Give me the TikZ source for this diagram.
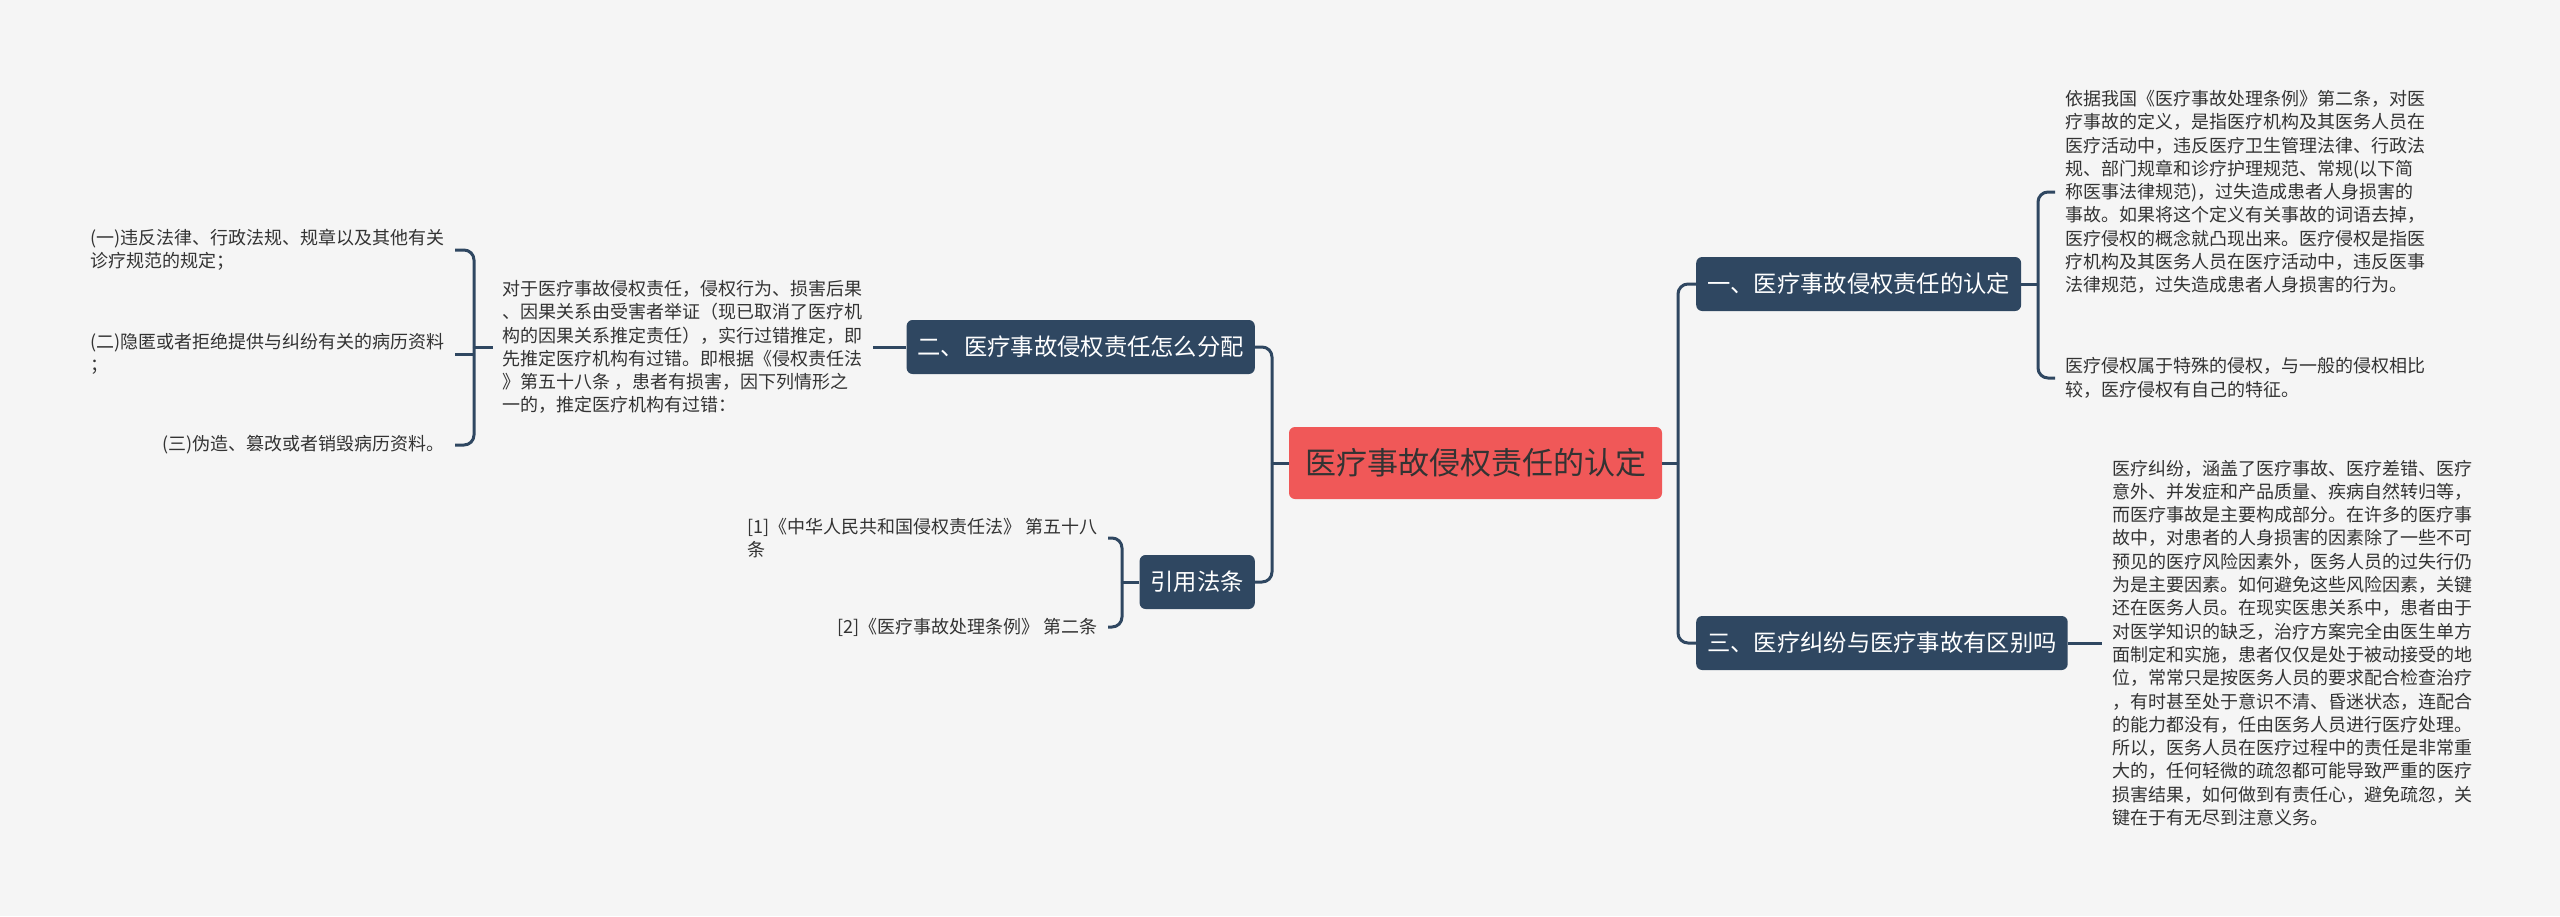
\documentclass[tikz,border=0pt]{standalone}
\usepackage{fontspec}
\setmainfont{Noto Sans CJK SC}
\usetikzlibrary{positioning,calc}
\definecolor{MapBg}{RGB}{245,245,245}
\definecolor{SlateBlue}{RGB}{47,71,97}
\definecolor{RootRed}{RGB}{240,88,88}
\definecolor{InkGray}{RGB}{51,51,51}
\tikzset{
	root/.style={fill=RootRed,text=InkGray,rounded corners=6pt,inner xsep=16pt,
		minimum height=72pt,font=\fontsize{31}{38}\selectfont},
	topic/.style={fill=SlateBlue,text=white,rounded corners=6pt,inner xsep=11pt,
		minimum height=54pt,font=\fontsize{23.3}{28}\selectfont},
	leaf/.style={text=InkGray,align=left,inner xsep=10pt,inner ysep=2pt,
		font=\fontsize{18}{23.3}\selectfont},
	link/.style={draw=SlateBlue,line width=3pt,rounded corners=10pt},
}

\begin{document}
\begin{tikzpicture}[x=1pt,y=-1pt]
			\path[use as bounding box,fill=MapBg] (0,0) rectangle (2560,916);
			\node[root] (root) at (1475.5,463) {医疗事故侵权责任的认定};
			\node[topic,anchor=west] (n1) at (1696,284) {一、医疗事故侵权责任的认定};
			\node[topic,anchor=east] (n2) at (1255,347) {二、医疗事故侵权责任怎么分配};
			\node[topic,anchor=west] (n3) at (1696,643) {三、医疗纠纷与医疗事故有区别吗};
			\node[topic,anchor=east] (n4) at (1255,582) {引用法条};
			\coordinate (rj) at (1678,463);
			\coordinate (lj) at (1272,463);
			\coordinate (j1) at (2038,284);
			\coordinate (j2) at (474,347);
			\coordinate (j4) at (1122,582);
			\node[leaf,anchor=west] (t11) at (2055,192) {依据我国《医疗事故处理条例》第二条，对医\\疗事故的定义，是指医疗机构及其医务人员在\\医疗活动中，违反医疗卫生管理法律、行政法\\规、部门规章和诊疗护理规范、常规(以下简\\称医事法律规范)，过失造成患者人身损害的\\事故。如果将这个定义有关事故的词语去掉，\\医疗侵权的概念就凸现出来。医疗侵权是指医\\疗机构及其医务人员在医疗活动中，违反医事\\法律规范，过失造成患者人身损害的行为。};
			\node[leaf,anchor=west] (t12) at (2055,378) {医疗侵权属于特殊的侵权，与一般的侵权相比\\较，医疗侵权有自己的特征。};
			\node[leaf,anchor=west] (t3) at (2102,643) {医疗纠纷，涵盖了医疗事故、医疗差错、医疗\\意外、并发症和产品质量、疾病自然转归等，\\而医疗事故是主要构成部分。在许多的医疗事\\故中，对患者的人身损害的因素除了一些不可\\预见的医疗风险因素外，医务人员的过失行仍\\为是主要因素。如何避免这些风险因素，关键\\还在医务人员。在现实医患关系中，患者由于\\对医学知识的缺乏，治疗方案完全由医生单方\\面制定和实施，患者仅仅是处于被动接受的地\\位，常常只是按医务人员的要求配合检查治疗\\，有时甚至处于意识不清、昏迷状态，连配合\\的能力都没有，任由医务人员进行医疗处理。\\所以，医务人员在医疗过程中的责任是非常重\\大的，任何轻微的疏忽都可能导致严重的医疗\\损害结果，如何做到有责任心，避免疏忽，关\\键在于有无尽到注意义务。};
			\node[leaf,anchor=east] (t2) at (873,347) {对于医疗事故侵权责任，侵权行为、损害后果\\、因果关系由受害者举证（现已取消了医疗机\\构的因果关系推定责任），实行过错推定，即\\先推定医疗机构有过错。即根据《侵权责任法\\》第五十八条 ，患者有损害，因下列情形之\\一的，推定医疗机构有过错：};
			\node[leaf,anchor=east] (g1) at (455,250) {(一)违反法律、行政法规、规章以及其他有关\\诊疗规范的规定；};
			\node[leaf,anchor=east] (g2) at (455,354) {(二)隐匿或者拒绝提供与纠纷有关的病历资料\\；};
			\node[leaf,anchor=east] (g3) at (455,445) {(三)伪造、篡改或者销毁病历资料。};
			\node[leaf,anchor=east] (r1) at (1108,538) {[1]《中华人民共和国侵权责任法》 第五十八\\条};
			\node[leaf,anchor=east] (r2) at (1108,627) {[2]《医疗事故处理条例》 第二条};
			\draw[link] (root.east) -- (rj);
			\draw[link] (rj) |- (n1.west);
			\draw[link] (rj) |- (n3.west);
			\draw[link] (root.west) -- (lj);
			\draw[link] (lj) |- (n2.east);
			\draw[link] (lj) |- (n4.east);
			\draw[link] (n1.east) -- (j1);
			\draw[link] (j1) |- (t11.west);
			\draw[link] (j1) |- (t12.west);
			\draw[link] (n3.east) -- (t3.west);
			\draw[link] (n2.west) -- (t2.east);
			\draw[link] (t2.west) -- (j2);
			\draw[link] (j2) |- (g1.east);
			\draw[link] (j2) |- (g3.east);
			\draw[link] (g2.east) -- (g2.east -| j2);
			\draw[link] (n4.west) -- (j4);
			\draw[link] (j4) |- (r1.east);
			\draw[link] (j4) |- (r2.east);
		\end{tikzpicture}
\end{document}
